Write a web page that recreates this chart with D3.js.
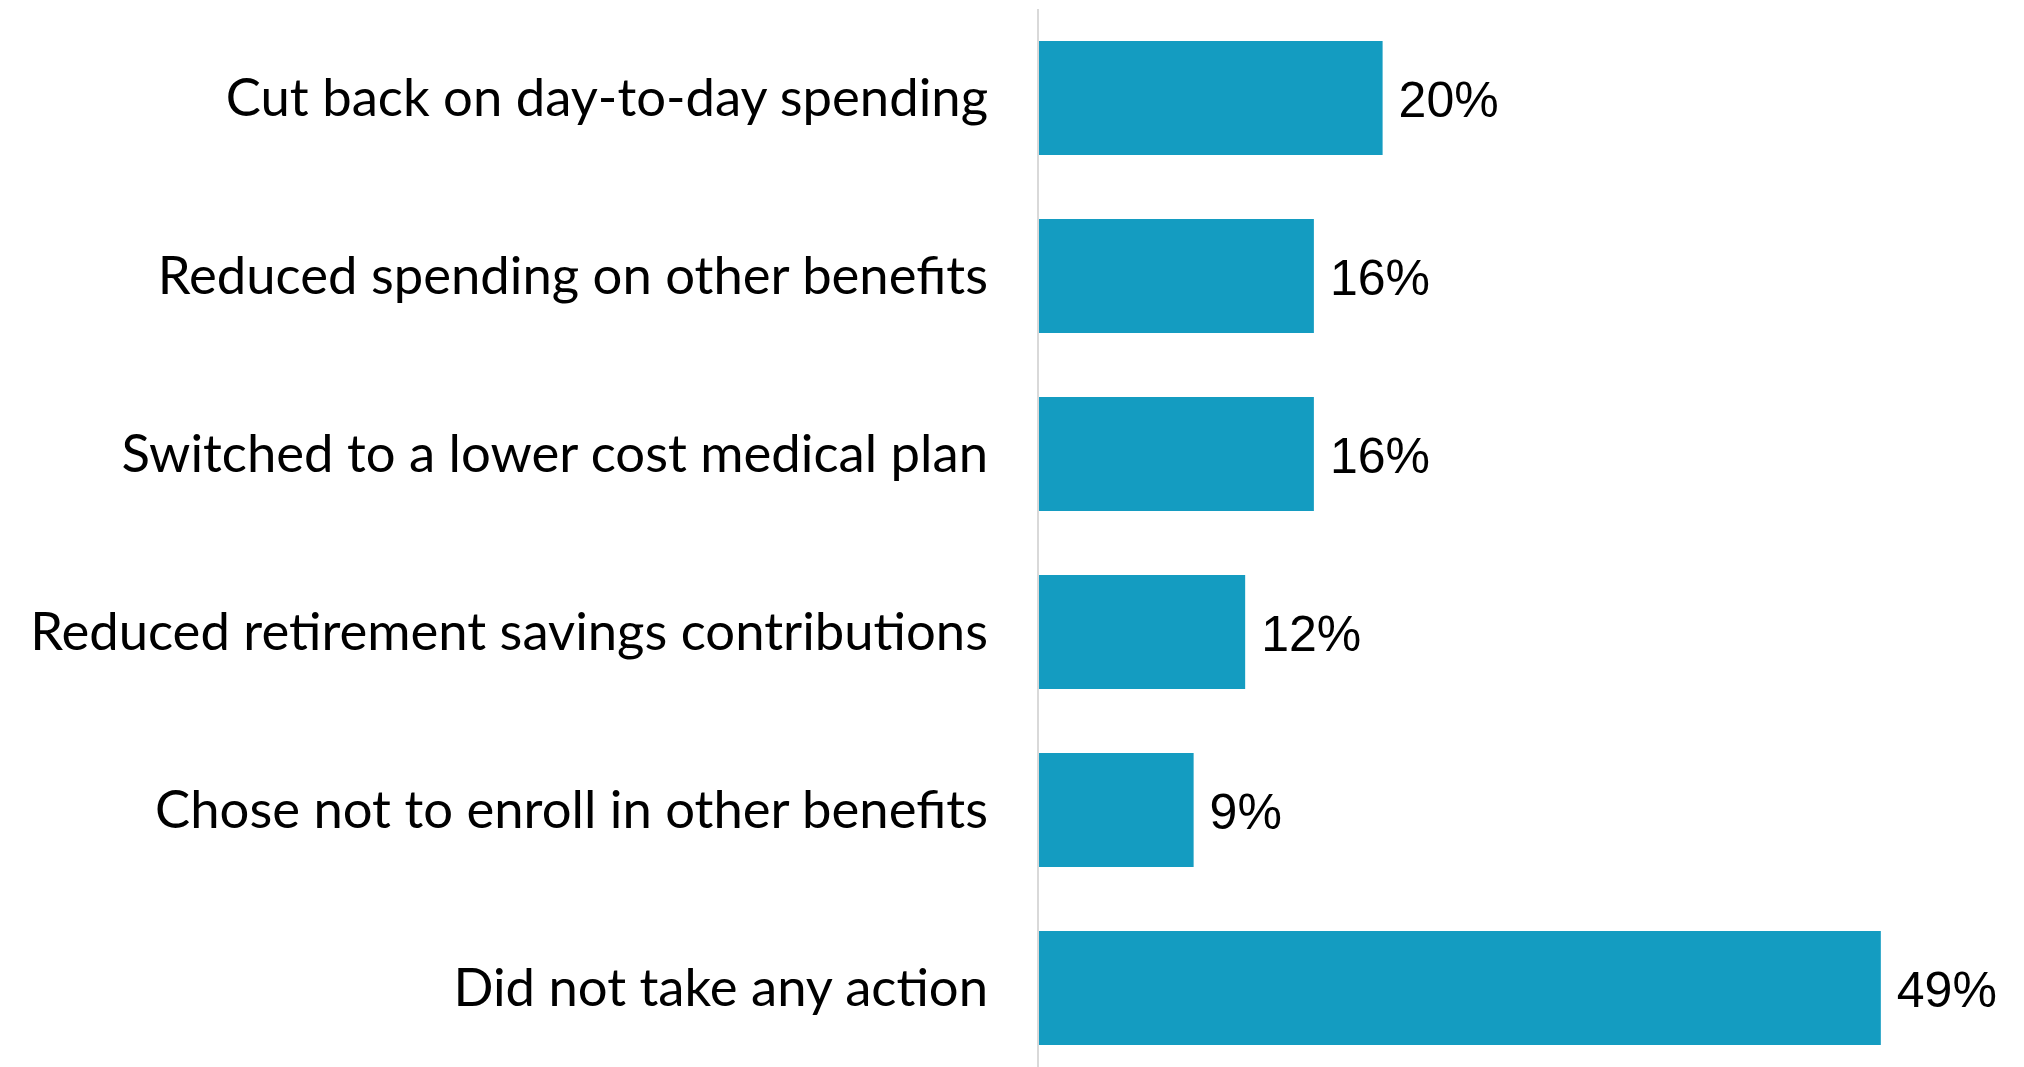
<!DOCTYPE html>
<html>
<head>
<meta charset="utf-8">
<script src="https://cdn.jsdelivr.net/npm/d3@7"></script>
<style>
  body { margin: 0; background: #fff; }
  svg { display: block; }
</style>
</head>
<body>
<div id="chart"></div>
<script>
var categories = [
  "Cut back on day-to-day spending",
  "Reduced spending on other benefits",
  "Switched to a lower cost medical plan",
  "Reduced retirement savings contributions",
  "Chose not to enroll in other benefits",
  "Did not take any action"
];
var values = [20, 16, 16, 12, 9, 49];
var valueLabels = ["20%", "16%", "16%", "12%", "9%", "49%"];

var width = 2024;
var height = 1067;
var axisX = 1039;
var pxPerPct = 17.18;

var data = categories.map(function(c, i) {
  return { cat: c, value: values[i], label: valueLabels[i] };
});

var svg = d3.select("#chart")
  .append("svg")
  .attr("width", width)
  .attr("height", height);

var xScale = d3.scaleLinear()
  .domain([0, 49])
  .range([axisX, axisX + 49 * pxPerPct]);

// bands: first bar top at 41, step 178, bar height 114
var yScale = d3.scaleBand()
  .domain(categories)
  .range([41 - 32, 41 - 32 + 6 * 178])
  .paddingInner(64 / 178)
  .paddingOuter(32 / 178);

svg.selectAll("rect.bar")
  .data(data)
  .enter()
  .append("rect")
  .attr("class", "bar")
  .attr("x", xScale(0))
  .attr("y", function(d) { return yScale(d.cat); })
  .attr("width", function(d) { return xScale(d.value) - xScale(0); })
  .attr("height", yScale.bandwidth())
  .attr("fill", "#149cc1");

// axis line
svg.append("line")
  .attr("x1", axisX - 1)
  .attr("x2", axisX - 1)
  .attr("y1", 9)
  .attr("y2", height)
  .attr("stroke", "#d9d9d9")
  .attr("stroke-width", 2);

var catText = svg.selectAll("text.cat")
  .data(data)
  .enter()
  .append("text")
  .attr("class", "cat")
  .attr("x", 988)
  .attr("y", function(d) { return yScale(d.cat) + yScale.bandwidth() / 2; })
  .attr("dy", "0.35em")
  .attr("text-anchor", "end")
  .attr("font-family", "Lato, 'Noto Sans', sans-serif")
  .attr("font-size", 50)
  .attr("fill", "#000")
  .text(function(d) { return d.cat; });

// fit longest label to the measured width
var longest = d3.max(catText.nodes(), function(n) { return n.getComputedTextLength(); });
catText.attr("font-size", 50 * 958 / longest);

svg.selectAll("text.val")
  .data(data)
  .enter()
  .append("text")
  .attr("class", "val")
  .attr("x", function(d) { return xScale(d.value) + 16; })
  .attr("y", function(d) { return yScale(d.cat) + yScale.bandwidth() / 2; })
  .attr("dy", "0.37em")
  .attr("font-family", "'Liberation Sans', Arial, sans-serif")
  .attr("font-size", 50)
  .attr("fill", "#000")
  .text(function(d) { return d.label; });
</script>
</body>
</html>
